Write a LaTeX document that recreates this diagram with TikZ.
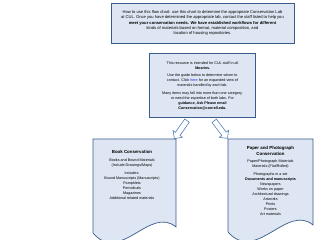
\documentclass[tikz,border=0pt]{standalone}
\usepackage{fontspec}
\setmainfont{Liberation Sans}
\usetikzlibrary{shapes.arrows, positioning}
\definecolor{boxfill}{RGB}{221, 230, 242}
\definecolor{boxline}{RGB}{58, 92, 140}
\definecolor{arrowline}{RGB}{84, 126, 180}
\definecolor{linkblue}{RGB}{20, 40, 220}

\begin{document}
\begin{tikzpicture}[x=1pt, y=1pt,
    every node/.style={font=\fontsize{3.7}{5}\selectfont, align=center, inner sep=0pt},
    infobox/.style={draw=boxline, line width=0.7pt, fill=boxfill},
    docshape/.style={draw=boxline, line width=0.7pt, fill=boxfill},
    hollowarrow/.style={single arrow, draw=arrowline, line width=0.6pt, fill=white,
      minimum height=22pt, minimum width=11pt, inner sep=2.5pt,
      single arrow head extend=3pt},
    head/.style={font=\fontsize{4.4}{5.4}\selectfont\bfseries},
  ]
  \useasboundingbox (0,0) rectangle (322,240);
  % top note
  \node[infobox, minimum width=183pt, minimum height=40pt] (intro) at (202.5,217) {};
  \node[font=\fontsize{4.1}{5.1}\selectfont] (introtext) at (intro.center) {How to use this flow chart: use this chart to determine the appropriate Conservation Lab\\
    at CUL. Once you have determined the appropriate lab, contact the staff listed to help you\\
    \textbf{meet your conservation needs. We have established workflows for different}\\
    kinds of materials based on format, material composition, and\\
    location of housing repositories.};
  % middle note
  \node[infobox, minimum width=106pt, minimum height=64pt, below=10pt of intro] (guide) {};
  \node (guidetext) at (guide.center) {This resource is intended for CUL staff in all\\
    \textbf{libraries.}\\[2.5pt]
    Use the guide below to determine whom to\\
    contact. Click \textcolor{linkblue}{here} for an expanded view of\\
    materials handled by each lab.\\[2.5pt]
    Many items may fall into more than one category,\\
    or need the expertise of both labs. For\\
    \textbf{guidance, Ask Please email}\\
    \textbf{Conservation@cornell.edu.}};
  % arrows
  \node[hollowarrow, rotate=-125] (toBook) at (181.5,111.5) {};
  \node[hollowarrow, rotate=-53] (toPaper) at (220,111.5) {};
  % book lab
  \coordinate (bookTL) at (93,101);
  \coordinate (bookTR) at (176,101);
  \draw[docshape] (bookTL) -- (bookTR) -- (176,13)
    .. controls (150,35) and (120,-25) .. (93,7) -- cycle;
  \node[head] (bookhead) at (132,88) {Book Conservation};
  \node[below=5pt of bookhead] (booktext) {Books and Bound Materials\\
    (Include Drawings/Maps)\\[3pt]
    Includes:\\
    Bound Manuscripts (Manuscripts)\\
    Pamphlets\\
    Periodicals\\
    Magazines\\
    Additional related materials};
  % paper lab
  \coordinate (paperTL) at (228,101);
  \coordinate (paperTR) at (313,101);
  \draw[docshape] (paperTL) -- (paperTR) -- (313,15)
    .. controls (287,37) and (256,-24) .. (228,8) -- cycle;
  \node[head] (paperhead) at (270.5,89) {Paper and Photograph\\Conservation};
  \node[below=4pt of paperhead] (papertext) {Paper/Photograph Materials\\
    Materials (Flat/Rolled)\\[3pt]
    Photographs in a set\\
    \textbf{Documents and manuscripts}\\
    Newspapers\\
    Works on paper\\
    Architectural drawings\\
    Artworks\\
    Prints\\
    Posters\\
    Art materials};
\end{tikzpicture}
\end{document}
